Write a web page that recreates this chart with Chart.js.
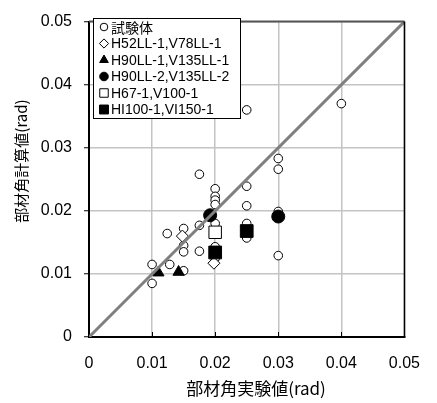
<!DOCTYPE html>
<html>
<head>
<meta charset="utf-8">
<script src="https://cdn.jsdelivr.net/npm/chart.js@4/dist/chart.umd.min.js"></script>
<style>
  html, body { margin: 0; padding: 0; background: #fff; }
  #wrap { width: 437px; height: 403px; }
</style>
</head>
<body>
<div id="wrap"><canvas id="chart" width="437" height="403"></canvas></div>
<script>
// Axis ticks (rad)
const tickValues = [0, 0.01, 0.02, 0.03, 0.04, 0.05];
const tickLabels = ['0', '0.01', '0.02', '0.03', '0.04', '0.05'];

// Series: [experiment, calculated]
const specimenPts = [
  [0.04, 0.037], [0.025, 0.036], [0.03, 0.0283], [0.03, 0.0266],
  [0.0175, 0.0258], [0.025, 0.0239], [0.025, 0.0208], [0.025, 0.018],
  [0.025, 0.0157], [0.03, 0.0199], [0.03, 0.0129], [0.02, 0.0235],
  [0.02, 0.0223], [0.02, 0.0217], [0.02, 0.021], [0.02, 0.018],
  [0.02, 0.0143], [0.02, 0.0125], [0.0175, 0.0177], [0.0175, 0.0136],
  [0.0124, 0.0164], [0.015, 0.0172], [0.015, 0.0145], [0.015, 0.0135],
  [0.015, 0.0105], [0.0128, 0.0115], [0.01, 0.0115], [0.01, 0.0085]
];
const h52Pts = [[0.0148, 0.016], [0.0198, 0.0117]];
const h90ll1Pts = [[0.011, 0.0102], [0.0142, 0.0103]];
const h90ll2Pts = [[0.0192, 0.0193], [0.03, 0.0191]];
const h67Pts = [[0.02, 0.0166]];
const hi100Pts = [[0.02, 0.0134], [0.025, 0.0168]];
const diagonalPts = [[0, 0], [0.05, 0.05]];

const seriesLabels = ['試験体', 'H52LL-1,V78LL-1', 'H90LL-1,V135LL-1',
  'H90LL-2,V135LL-2', 'H67-1,V100-1', 'HI100-1,VI150-1'];

const toXY = pts => pts.map(p => ({ x: p[0], y: p[1] }));

const JP_FONT = '"Noto Sans CJK JP", "Liberation Sans", sans-serif';
const NUM_FONT = '"Liberation Sans", Arial, sans-serif';

// marker styles, in legend order
const markers = [
  { data: specimenPts, style: 'circle', r: 4.3, lr: 3.8, fill: '#fff', order: 6 },
  { data: h52Pts, style: 'rectRot', r: 6, lr: 4.6, fill: '#fff', order: 5 },
  { data: h90ll1Pts, style: 'triangle', r: 6.5, lr: 5, fill: '#000', order: 4 },
  { data: h90ll2Pts, style: 'circle', r: 6.5, lr: 4.3, fill: '#000', order: 3 },
  { data: h67Pts, style: 'rect', r: 8.8, lr: 6, fill: '#fff', order: 2 },
  { data: hi100Pts, style: 'rect', r: 9, lr: 6.3, fill: '#000', order: 1 }
];

// draws frame top/right, inner x ticks, axis titles and the boxed legend
const framePlugin = {
  id: 'frame',
  afterDraw(chart) {
    const ctx = chart.ctx;
    const a = chart.chartArea;
    const xs = chart.scales.x;
    ctx.save();
    ctx.strokeStyle = '#555';
    ctx.lineWidth = 2;
    ctx.beginPath();
    ctx.moveTo(a.left, a.top);
    ctx.lineTo(a.right, a.top);
    ctx.stroke();
    ctx.strokeStyle = '#000';
    ctx.lineWidth = 1.5;
    ctx.beginPath();
    ctx.moveTo(a.right, a.top);
    ctx.lineTo(a.right, a.bottom);
    ctx.stroke();
    // inward ticks on x axis
    ctx.lineWidth = 1;
    tickValues.slice(1, -1).forEach(v => {
      const px = Math.round(xs.getPixelForValue(v)) + 0.5;
      ctx.beginPath();
      ctx.moveTo(px, a.bottom);
      ctx.lineTo(px, a.bottom - 5);
      ctx.stroke();
    });

    // axis titles
    ctx.fillStyle = '#000';
    ctx.textAlign = 'center';
    ctx.textBaseline = 'middle';
    ctx.font = '17px ' + JP_FONT;
    ctx.fillText('部材角実験値(rad)', 256, 389);
    ctx.save();
    ctx.translate(21, 161);
    ctx.rotate(-Math.PI / 2);
    ctx.font = '15px ' + JP_FONT;
    ctx.fillText('部材角計算値(rad)', 0, 0);
    ctx.restore();

    // legend box
    ctx.fillStyle = '#fff';
    ctx.fillRect(93.5, 18.5, 147, 100);
    ctx.strokeStyle = '#000';
    ctx.lineWidth = 1;
    ctx.strokeRect(93.5, 18.5, 147, 100);
    ctx.textAlign = 'left';
    markers.forEach((m, i) => {
      const y = 27 + i * 16.5;
      ctx.fillStyle = m.fill;
      ctx.strokeStyle = '#000';
      ctx.lineWidth = 1;
      Chart.helpers.drawPoint(ctx, { pointStyle: m.style, radius: m.lr, borderWidth: 1, rotation: 0 }, 104, y);
      ctx.fillStyle = '#000';
      ctx.font = (i === 0 ? '14px ' + JP_FONT : '14px ' + NUM_FONT);
      ctx.fillText(seriesLabels[i], 111, y + 1);
    });
    ctx.restore();
  }
};

const datasets = [{
  type: 'line',
  data: toXY(diagonalPts),
  borderColor: '#808080',
  borderWidth: 3,
  pointRadius: 0,
  showLine: true,
  order: 0
}].concat(markers.map((m, i) => ({
  label: seriesLabels[i],
  data: toXY(m.data),
  pointStyle: m.style,
  pointRadius: m.r,
  backgroundColor: m.fill,
  borderColor: '#000',
  borderWidth: 1,
  order: m.order
})));

new Chart(document.getElementById('chart'), {
  type: 'scatter',
  data: { datasets },
  options: {
    responsive: false,
    animation: false,
    layout: { padding: { left: 0, top: 14, right: 17, bottom: 0 } },
    plugins: { legend: { display: false }, tooltip: { enabled: false } },
    scales: {
      x: {
        min: 0, max: 0.05,
        afterBuildTicks: s => { s.ticks = tickValues.map(v => ({ value: v })); },
        afterFit: s => { s.height = 66; },
        ticks: {
          color: '#000', padding: 17, maxRotation: 0,
          font: { family: NUM_FONT, size: 16 },
          callback: (v, i) => tickLabels[i]
        },
        grid: { color: '#c4c4c4', lineWidth: 1.5, drawTicks: false },
        border: { color: '#000', width: 2 }
      },
      y: {
        min: 0, max: 0.05,
        afterBuildTicks: s => { s.ticks = tickValues.map(v => ({ value: v })); },
        afterFit: s => { s.width = 89; },
        ticks: {
          color: '#000', padding: 12,
          font: { family: NUM_FONT, size: 16 },
          callback: (v, i) => tickLabels[i]
        },
        grid: { color: '#c4c4c4', lineWidth: 1.5, tickLength: 5, tickColor: '#000', tickWidth: 1 },
        border: { color: '#000', width: 2 }
      }
    }
  },
  plugins: [framePlugin]
});
</script>
</body>
</html>
